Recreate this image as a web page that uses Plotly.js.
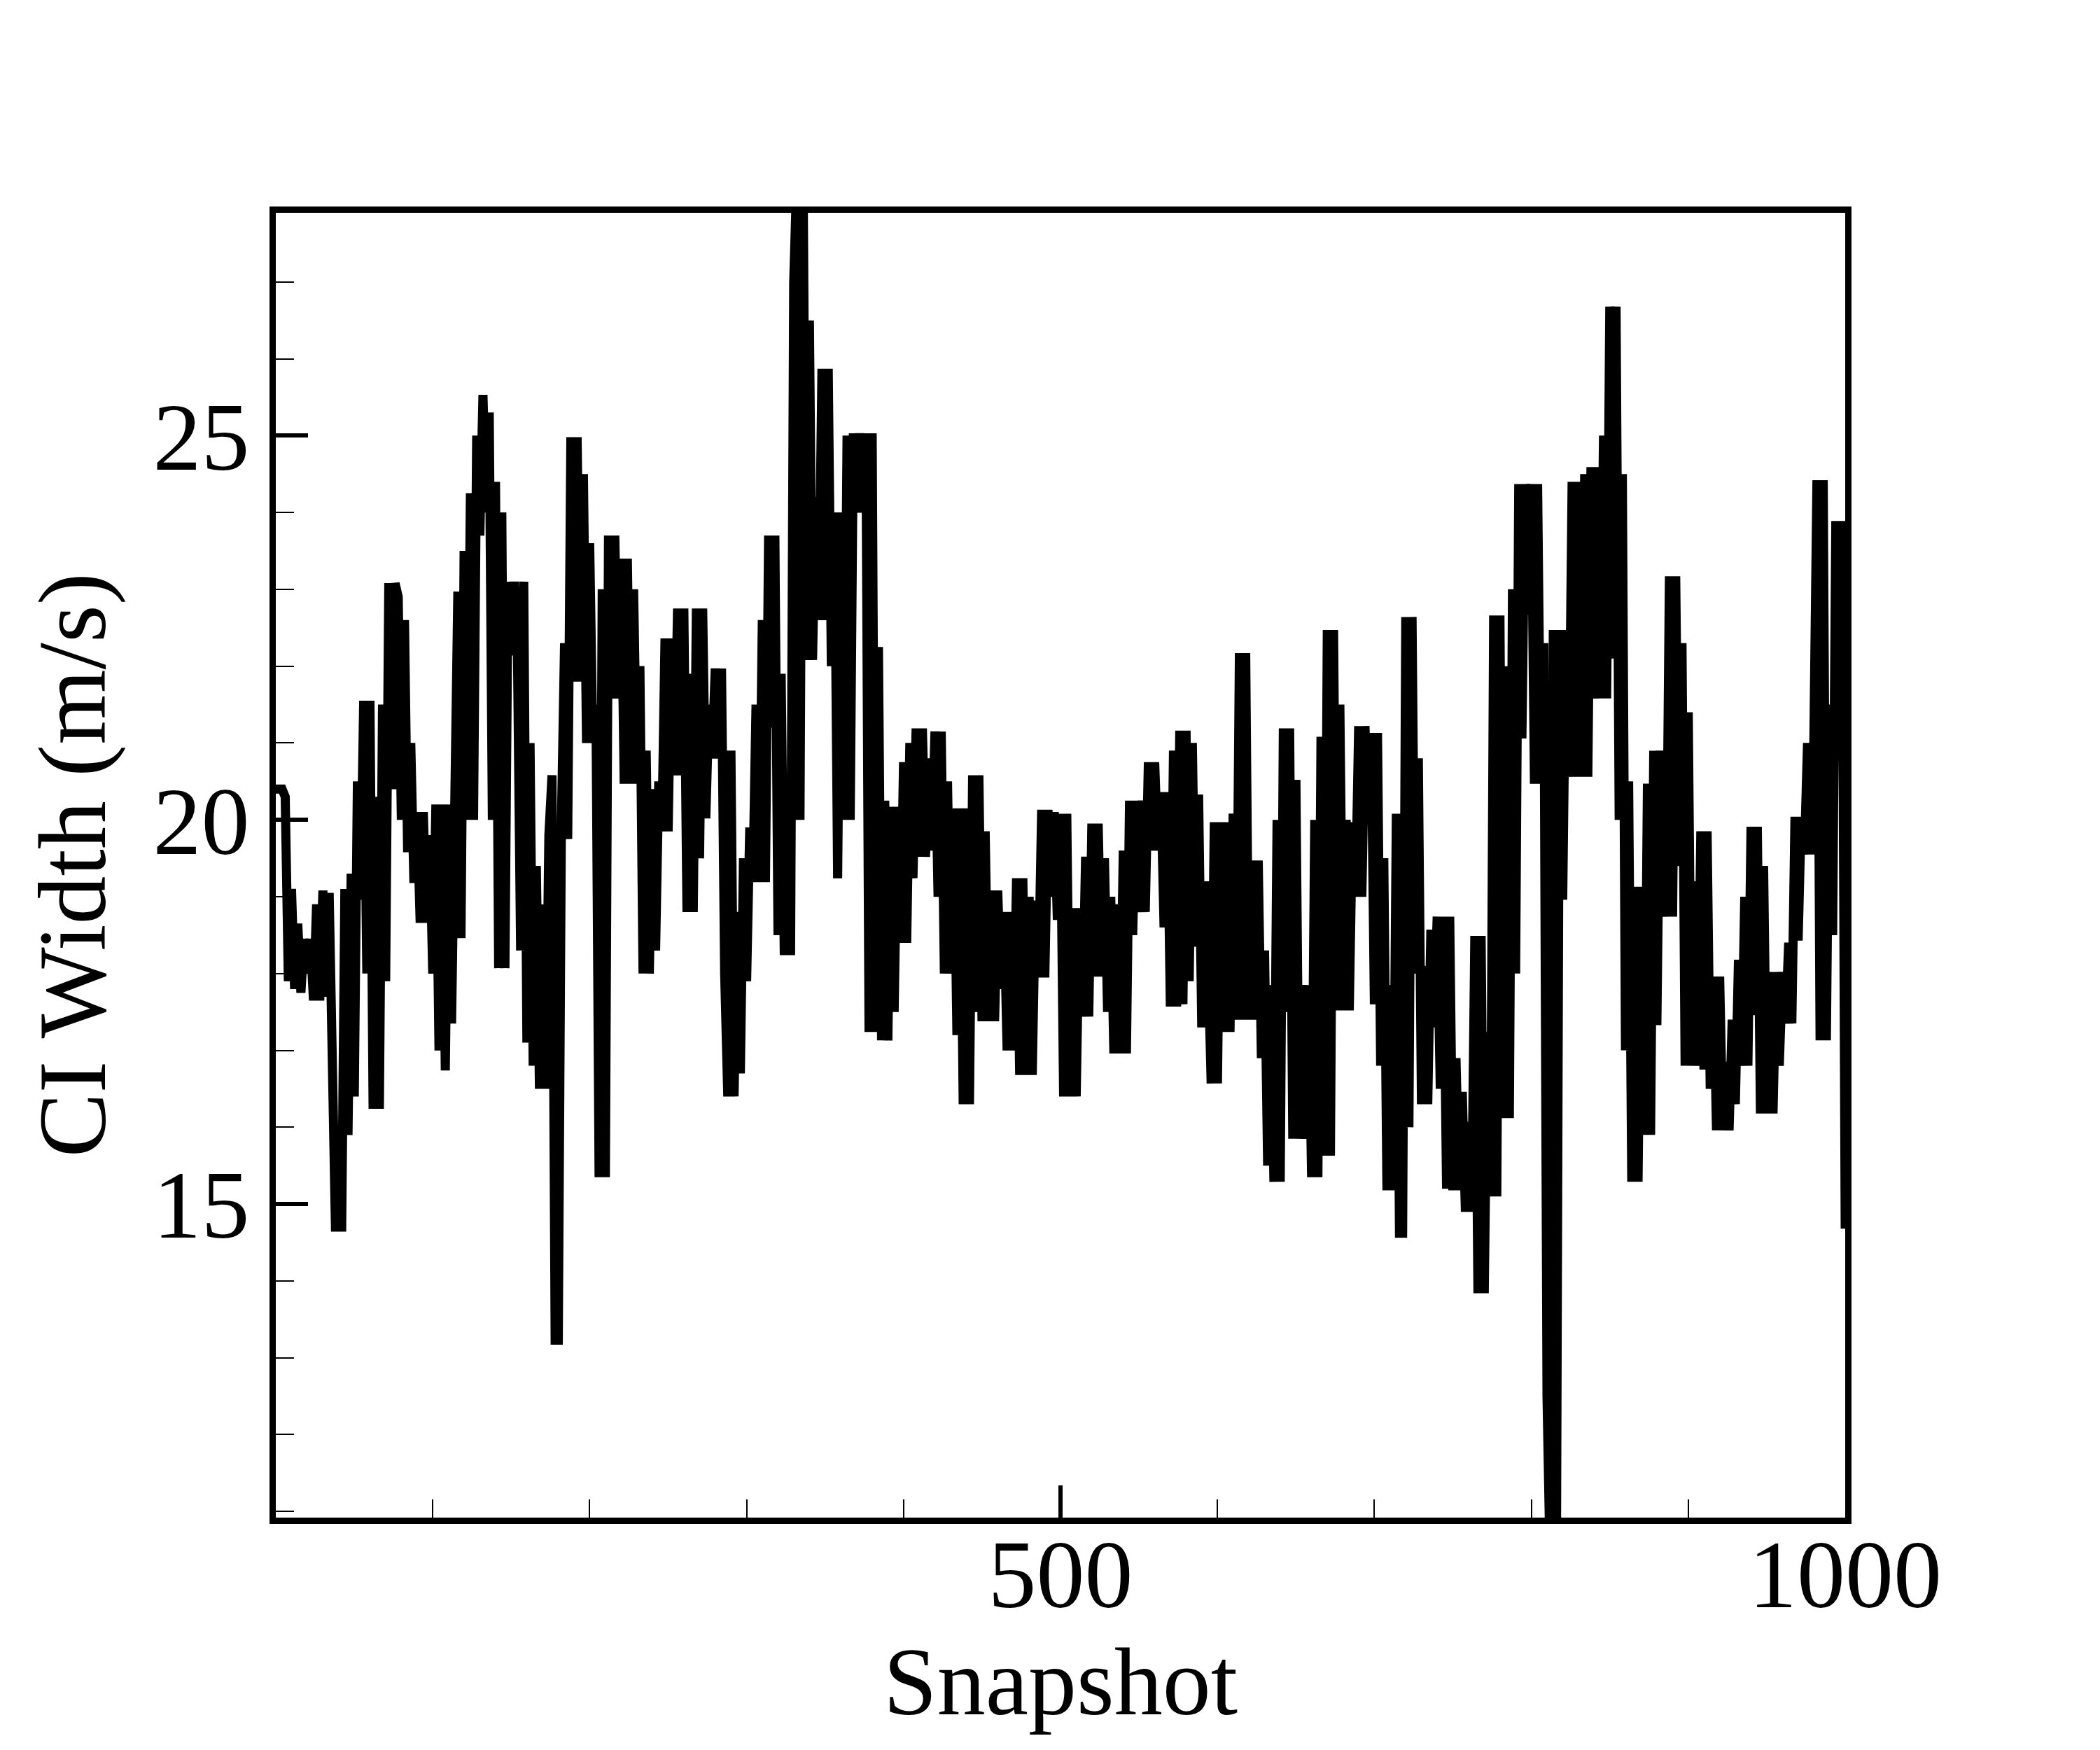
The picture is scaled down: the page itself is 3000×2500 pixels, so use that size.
<!DOCTYPE html>
<html>
<head>
<meta charset="utf-8">
<script src="https://cdn.plot.ly/plotly-3.0.1.min.js"></script>
<style>html,body{margin:0;padding:0;background:#fff;}#chart{width:3000px;height:2500px;}</style>
</head>
<body>
<div id="chart"></div>
<script>
// CI width (m/s), one value every 2 snapshots (0..1000)
const ciWidth = [
  20.4, 20.4, 20.4, 20.3, 17.9, 19.1, 17.8, 18.65, 17.75, 18.45,
  18.0, 18.45, 17.65, 18.9, 17.65, 19.08, 17.7, 19.05, 16.0, 14.7,
  14.7, 14.7, 19.1, 15.9, 19.3, 16.4, 20.5, 18.96, 21.55, 18.0,
  21.55, 16.24, 20.3, 16.24, 21.5, 17.9, 23.08, 20.4, 23.08, 22.9,
  20.0, 22.6, 19.58, 21.0, 19.18, 20.1, 18.66, 20.1, 18.66, 19.8,
  18.0, 20.2, 17.0, 20.2, 16.74, 20.2, 17.35, 20.5, 22.97, 18.46,
  23.5, 20.0, 24.25, 20.0, 25.0, 23.7, 25.53, 24.0, 25.3, 20.0,
  24.4, 18.07, 24.0, 18.07, 23.1, 22.14, 23.1, 22.14, 18.3, 23.1,
  17.1, 21.0, 16.8, 19.4, 16.5, 18.9, 16.5, 19.8, 20.58, 13.23,
  13.23, 20.0, 22.3, 19.75, 24.98, 21.8, 24.98, 21.8, 24.5, 21.0,
  23.6, 21.0, 21.5, 15.35, 23.0, 15.35, 23.7, 21.58, 23.7, 21.58,
  23.4, 20.47, 23.4, 20.47, 23.0, 20.47, 22.0, 18.0, 20.9, 18.0,
  20.4, 18.3, 20.5, 19.85, 22.36, 19.85, 22.36, 20.58, 22.75, 20.58,
  22.75, 18.8, 21.9, 18.8, 22.75, 19.5, 22.75, 20.02, 21.5, 20.8,
  21.97, 20.8, 21.97, 18.0, 16.4, 20.9, 16.4, 18.8, 16.7, 19.5,
  17.9, 19.9, 19.19, 21.5, 19.19, 22.6, 19.19, 23.7, 21.2, 23.7,
  18.5, 21.9, 18.24, 20.35, 18.24, 27.0, 28.4, 20.0, 28.4, 22.08,
  26.5, 22.08, 24.2, 22.6, 25.87, 22.6, 25.87, 22.0, 24.0, 19.24,
  24.0, 20.0, 25.0, 20.0, 25.03, 24.0, 25.03, 24.0, 25.03, 17.24,
  25.03, 17.24, 22.25, 17.13, 20.25, 17.13, 20.17, 17.5, 20.17, 18.4,
  20.75, 18.4, 21.0, 19.24, 21.19, 19.52, 21.19, 19.52, 20.8, 19.6,
  21.15, 19.0, 21.15, 18.0, 20.5, 18.0, 20.15, 17.2, 20.15, 16.3,
  20.15, 16.3, 20.58, 17.5, 20.58, 17.38, 19.85, 17.38, 19.08, 17.38,
  19.08, 17.8, 18.8, 17.0, 18.8, 17.0, 19.24, 16.68, 19.24, 16.68,
  19.0, 16.68, 18.95, 17.95, 20.13, 17.95, 20.13, 19.0, 20.1, 18.7,
  20.08, 16.4, 20.08, 16.4, 18.85, 16.4, 18.85, 17.44, 19.52, 17.44,
  19.95, 17.96, 19.95, 17.96, 19.5, 17.5, 19.0, 16.96, 18.9, 16.96,
  19.6, 16.96, 20.25, 18.5, 20.25, 18.8, 20.25, 18.8, 20.75, 19.6,
  20.75, 19.6, 20.36, 18.6, 20.36, 17.57, 20.9, 17.57, 21.16, 17.6,
  21.16, 17.9, 21.0, 18.35, 20.33, 17.3, 19.2, 18.2, 16.57, 19.97,
  16.57, 19.97, 17.24, 19.97, 17.24, 20.08, 17.4, 22.17, 17.4, 22.17,
  17.4, 19.47, 17.4, 19.47, 16.9, 18.3, 15.5, 17.85, 15.29, 20.0,
  15.29, 21.19, 17.5, 21.19, 15.85, 20.52, 15.85, 17.85, 15.85, 17.85,
  15.35, 20.0, 15.35, 21.08, 15.63, 22.47, 15.63, 22.47, 17.52, 21.5,
  17.52, 20.0, 17.52, 19.97, 19.0, 21.22, 19.0, 21.22, 20.0, 21.13,
  17.6, 21.13, 16.8, 19.5, 15.18, 17.85, 15.18, 20.08, 14.62, 14.62,
  22.64, 16.0, 22.64, 18.0, 20.8, 16.3, 18.1, 16.3, 18.57, 17.3,
  18.74, 16.5, 18.74, 15.2, 18.74, 15.18, 16.9, 15.18, 16.46, 14.9,
  16.07, 14.9, 18.49, 13.84, 18.49, 13.84, 17.24, 15.1, 22.66, 15.1,
  22.66, 16.12, 22.0, 16.12, 23.0, 18.0, 24.37, 21.06, 24.37, 22.67,
  24.37, 20.47, 24.37, 20.47, 22.3, 12.5, 10.3, 22.47, 10.3, 22.47,
  18.96, 22.47, 20.56, 24.4, 20.56, 24.4, 20.56, 24.5, 20.56, 24.59,
  21.58, 24.59, 21.58, 25.0, 21.58, 26.68, 22.1, 26.68, 20.0, 24.5,
  17.0, 20.5, 15.29, 19.13, 15.29, 19.13, 15.9, 20.47, 15.9, 20.9,
  17.33, 20.9, 19.3, 18.74, 23.17, 18.74, 23.17, 19.4, 22.3, 16.8,
  21.4, 16.8, 19.2, 16.8, 19.85, 16.75, 19.85, 16.5, 17.96, 15.96,
  17.96, 15.96, 16.85, 15.96, 17.4, 16.3, 18.18, 16.8, 19.0, 16.8,
  19.91, 17.46, 19.91, 16.18, 19.4, 16.18, 18.02, 16.18, 18.02, 16.8,
  18.02, 17.35, 18.4, 17.35, 20.04, 18.43, 20.04, 19.55, 21.0, 19.55,
  21.0, 24.42, 17.13, 24.42, 17.13, 21.5, 18.5, 23.83, 23.83, 23.83,
  14.68
];
const snapshotStep = 2;
const snapshots = ciWidth.map((_, i) => i * snapshotStep);

const xTickVals = [0, 500, 1000];
const xTickText = ['', '500', '1000'];
const yTickVals = [15, 20, 25];
const yTickText = ['15', '20', '25'];

const FONT = '"Liberation Serif", "Times New Roman", serif';

const trace = {
  x: snapshots,
  y: ciWidth,
  type: 'scatter',
  mode: 'lines',
  line: {color: '#000', width: 13},
  hoverinfo: 'skip'
};

const axisCommon = {
  showgrid: false,
  zeroline: false,
  showline: true,
  linecolor: '#000',
  linewidth: 9,
  mirror: true,
  ticks: 'inside',
  tickcolor: '#000',
  ticklen: 46,
  tickwidth: 6,
  tickfont: {family: FONT, size: 138, color: '#000'},
  tickmode: 'array'
};

const layout = {
  width: 3000,
  height: 2500,
  margin: {l: 394, r: 364, t: 304, b: 332, pad: 0},
  paper_bgcolor: '#fff',
  plot_bgcolor: '#fff',
  showlegend: false,
  font: {family: FONT, color: '#000'},
  xaxis: Object.assign({}, axisCommon, {
    range: [0, 1000],
    tickvals: xTickVals,
    ticktext: xTickText,
    ticklabelstandoff: -47,
    minor: {tickmode: 'linear', tick0: 0, dtick: 100, ticks: 'inside', ticklen: 26, tickwidth: 2, tickcolor: '#000', showgrid: false},
    title: {text: 'Snapshot', font: {family: FONT, size: 138, color: '#000'}, standoff: 22}
  }),
  yaxis: Object.assign({}, axisCommon, {
    range: [10.92, 27.90],
    tickvals: yTickVals,
    ticktext: yTickText,
    ticklabelstandoff: 1,
    minor: {tickmode: 'linear', tick0: 0, dtick: 1, ticks: 'inside', ticklen: 26, tickwidth: 2, tickcolor: '#000', showgrid: false},
    title: {text: 'CI Width (m/s)', font: {family: FONT, size: 138, color: '#000'}, standoff: 25}
  })
};

Plotly.newPlot('chart', [trace], layout, {staticPlot: true, displayModeBar: false});
</script>
</body>
</html>
